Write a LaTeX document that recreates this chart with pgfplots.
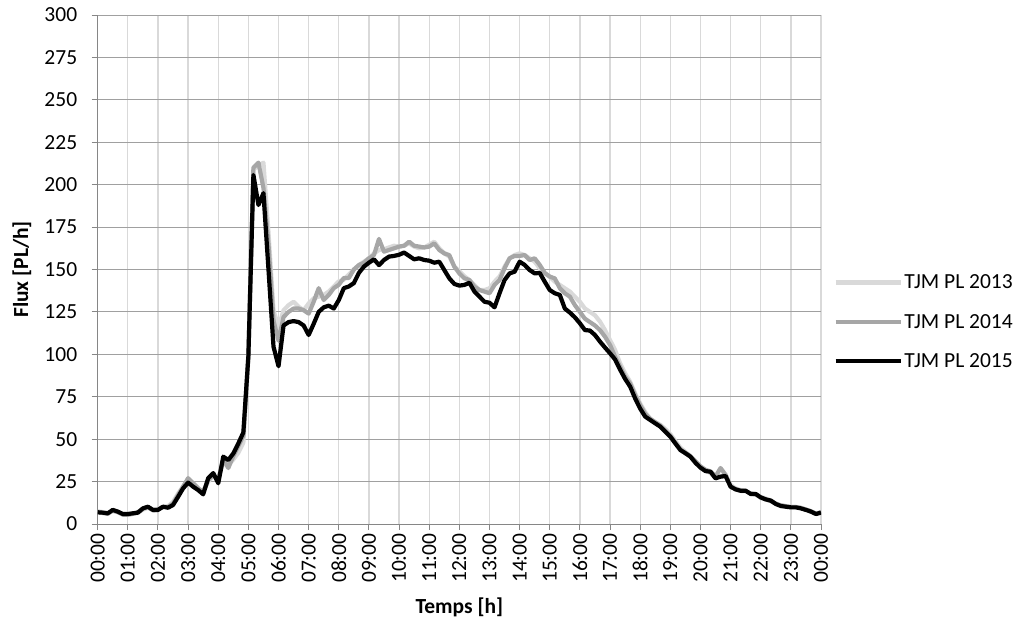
\documentclass[border=0pt]{standalone}
\usepackage{pgfplots}
\pgfplotsset{compat=1.18}
\usepackage{pgfplotstable}
\usepackage{fontspec}
\setmainfont{Carlito}
\definecolor{c13}{HTML}{D9D9D9}
\definecolor{c14}{HTML}{A6A6A6}
\definecolor{axgray}{HTML}{868686}
\definecolor{hgrid}{HTML}{A0A0A0}
\definecolor{vgrid}{HTML}{D9D9D9}

\pgfplotstableread{
k v
0 7.5
1 7
2 6.5
3 7.5
4 7
5 6
6 5.5
7 6
8 6.5
9 8.5
10 9.5
11 8.5
12 9
13 10
14 10.5
15 13
16 18
17 22
18 26
19 24
20 21
21 19
22 25
23 28
24 27
25 36
26 35
27 38
28 42
29 48
30 98
31 209
32 211
33 213
34 172
35 126
36 116
37 126
38 129
39 131
40 128
41 126
42 130
43 133
44 134
45 135
46 137
47 140
48 143
49 144
50 147
51 150
52 152.6
53 154.6
54 156.6
55 159.5
56 161.5
57 162
58 163
59 164
60 163.5
61 164
62 165.4
63 163.5
64 162.5
65 163
66 164.6
67 166.4
68 162.5
69 159.5
70 157.6
71 151.7
72 149
73 146
74 143.8
75 140.9
76 137.9
77 137.9
78 138.9
79 142.8
80 145.8
81 151.7
82 156.6
83 158.5
84 159.5
85 158.5
86 156.6
87 154.6
88 150.7
89 147.7
90 145.8
91 142.8
92 140.9
93 138.9
94 137
95 134
96 131
97 127
98 125
99 123
100 119.3
101 114.3
102 108.4
103 102.6
104 94.7
105 88.8
106 83.9
107 77
108 71
109 66
110 62
111 60
112 58.5
113 56
114 53
115 49
116 45
117 42.5
118 40
119 37
120 33.5
121 31.5
122 30
123 27
124 28
125 29
126 23
127 21
128 20
129 19.5
130 18
131 17.5
132 16
133 15
134 14
135 12
136 11
137 10.5
138 10
139 10
140 9.5
141 8.5
142 7.5
143 6
144 7
}\tjmA

\pgfplotstableread{
k v
0 7
1 6.5
2 6
3 8
4 7
5 5.5
6 5.5
7 6
8 7
9 9
10 10
11 8
12 8.5
13 10
14 10
15 12
16 17
17 22
18 27
19 24
20 21
21 19
22 26
23 29
24 26
25 38
26 33
27 40
28 46
29 52
30 100
31 210
32 213
33 198
34 165
35 120
36 108
37 122
38 125
39 127
40 127
41 126
42 124
43 131
44 139
45 132
46 135
47 139
48 141
49 145
50 145
51 150
52 152.6
53 154
54 156.6
55 158.5
56 168
57 160.5
58 161.5
59 162.5
60 163.5
61 164
62 166.4
63 164
64 163.5
65 163
66 163.5
67 165.4
68 161.5
69 159.5
70 158.5
71 151.7
72 147.7
73 144.8
74 143.8
75 139.9
76 137.9
77 137
78 136
79 140.9
80 143.8
81 150.7
82 156.6
83 158
84 158
85 158.5
86 155.6
87 156.6
88 152.7
89 148
90 145.8
91 144.8
92 139
93 136
94 134
95 129
96 125
97 121
98 119
99 117
100 114.3
101 110.4
102 105.5
103 98.6
104 92.7
105 86.8
106 82.9
107 76
108 70
109 65
110 62
111 60
112 58
113 55
114 52
115 48
116 44
117 42
118 40
119 37
120 34
121 32
122 31
123 28
124 33
125 29
126 22
127 20.5
128 19.5
129 19.5
130 18
131 17.5
132 15.5
133 14.5
134 13.5
135 12
136 11
137 10.5
138 10
139 10
140 9.5
141 8.5
142 7.5
143 6
144 7
}\tjmB

\pgfplotstableread{
k v
0 6.9
1 6.7
2 6.3
3 8.3
4 7.3
5 5.9
6 5.9
7 6.3
8 6.7
9 9.2
10 10.2
11 8.3
12 8.3
13 10.2
14 9.6
15 11.2
16 16
17 21
18 24.4
19 22
20 20
21 17.5
22 27
23 30
24 24
25 39.7
26 37.7
27 41.6
28 47.5
29 54
30 99
31 205.7
32 188
33 195
34 150
35 104.5
36 93
37 117
38 119
39 119.6
40 119
41 117
42 111.4
43 118
44 125
45 127.7
46 128.7
47 127
48 132
49 139
50 140
51 142
52 148
53 151.7
54 154
55 156
56 152.6
57 155.6
58 157.6
59 158
60 158.7
61 160
62 158
63 156
64 156.6
65 155.6
66 155.2
67 154
68 154.6
69 149.7
70 144.8
71 141.5
72 140.5
73 140.9
74 142.2
75 137
76 134
77 131
78 130.4
79 127.7
80 136
81 143.8
82 147.7
83 148.7
84 154.6
85 152.7
86 149.7
87 147.7
88 148
89 142.8
90 137.9
91 136
92 135
93 127
94 124.6
95 121.8
96 118.3
97 114.3
98 114
99 111.4
100 107.5
101 104
102 100.6
103 97
104 91
105 85.5
106 81
107 74
108 68
109 63.3
110 61.3
111 59.3
112 57.4
113 54.4
114 51.5
115 47.5
116 43.6
117 41.7
118 39.7
119 36.1
120 33.2
121 31.2
122 30.8
123 26.9
124 27.9
125 28.3
126 22
127 20.4
128 19.6
129 19.6
130 17.7
131 17.7
132 15.7
133 14.5
134 13.8
135 11.8
136 10.6
137 10.2
138 9.8
139 9.8
140 9.2
141 8.3
142 7.3
143 5.9
144 6.7
}\tjmC

\begin{document}
\begin{tikzpicture}
\useasboundingbox (0pt,0pt) rectangle (1026pt,630pt);
\begin{axis}[
  at={(97.7pt,106pt)}, anchor=south west,
  scale only axis, width=723.3pt, height=509pt,
  xmin=0, xmax=144, ymin=0, ymax=300,
  xtick={0,6,...,144},
  xticklabels={00:00,01:00,02:00,03:00,04:00,05:00,06:00,07:00,08:00,09:00,10:00,11:00,12:00,13:00,14:00,15:00,16:00,17:00,18:00,19:00,20:00,21:00,22:00,23:00,00:00},
  ytick={0,25,...,300},
  axis lines*=left,
  axis line style={axgray, line width=1pt},
  tick align=outside, major tick length=6pt,
  tick style={axgray, line width=1pt},
  xmajorgrids, ymajorgrids,
  x grid style={vgrid, line width=1.3pt},
  y grid style={hgrid, line width=1pt},
  /pgf/number format/assume math mode=true,
  tick label style={font=\fontsize{21.5}{25}\selectfont, black},
  xticklabel style={rotate=90, anchor=east},
  yticklabel style={xshift=-11pt},
  xlabel={\textbf{Temps [h]}},
  ylabel={\textbf{Flux [PL/h]}},
  label style={font=\fontsize{21.5}{25}\selectfont},
  xlabel style={at={(axis description cs:0.5,-0.163)}, anchor=center},
  ylabel style={at={(axis description cs:-0.105,0.5)}, anchor=center},
  legend style={draw=none, fill=none, at={(1.013,0.397)}, anchor=west,
    font=\fontsize{21.5}{25}\selectfont, row sep=20pt,
    nodes={inner xsep=1.5pt}},
  legend cell align=left,
  legend image code/.code={\draw[#1] (0pt,0pt) -- (65pt,0pt);},
  every axis plot/.append style={line width=4.2pt, line join=round},
]
\addplot[c13, no marks] table[x=k, y=v] {\tjmA};
\addplot[c14, no marks] table[x=k, y=v] {\tjmB};
\addplot[black, no marks] table[x=k, y=v] {\tjmC};
\legend{TJM PL 2013, TJM PL 2014, TJM PL 2015}
\end{axis}
\end{tikzpicture}
\end{document}
